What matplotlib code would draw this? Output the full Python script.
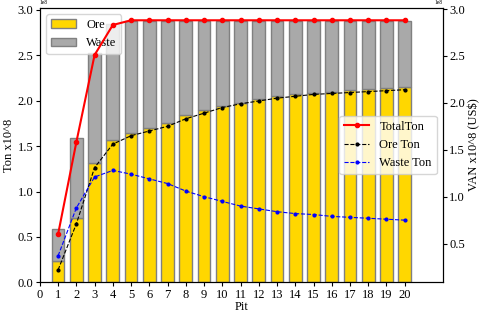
import numpy as np
import matplotlib
matplotlib.use('Agg')
import matplotlib.pyplot as plt

plt.rcParams['font.family'] = ['Liberation Serif', 'DejaVu Serif']
plt.rcParams['font.size'] = 9

# data (units of 1e8)
pits = list(range(1, 21))
ore = [0.23, 0.71, 1.32, 1.57, 1.65, 1.70, 1.75, 1.84, 1.90, 1.94,
       1.98, 2.02, 2.05, 2.07, 2.09, 2.10, 2.12, 2.13, 2.14, 2.15]
total = [0.59, 1.59, 2.53, 2.85, 2.88, 2.88, 2.88, 2.88, 2.88, 2.88,
         2.88, 2.88, 2.88, 2.88, 2.88, 2.88, 2.88, 2.88, 2.88, 2.88]
total_ton = [0.60, 1.58, 2.51, 2.83, 2.88, 2.88, 2.88, 2.88, 2.88, 2.88,
             2.88, 2.88, 2.88, 2.88, 2.88, 2.88, 2.88, 2.88, 2.88, 2.88]
ore_ton = [0.22, 0.71, 1.31, 1.56, 1.65, 1.70, 1.75, 1.83, 1.89, 1.95,
           1.99, 2.02, 2.05, 2.07, 2.09, 2.10, 2.11, 2.12, 2.13, 2.14]
waste_ton = [0.37, 0.88, 1.21, 1.28, 1.24, 1.19, 1.14, 1.06, 1.00, 0.95,
             0.90, 0.87, 0.84, 0.82, 0.81, 0.79, 0.78, 0.77, 0.76, 0.75]

x = np.array(pits)
ore_b = np.array(ore) * 1e8
waste_b = (np.array(total) - np.array(ore)) * 1e8

fig = plt.figure(figsize=(4.8, 3.12), dpi=100)
ax = fig.add_axes([0.083, 0.095, 0.84, 0.88])
ax.bar(x, ore_b, width=0.7, color='gold', edgecolor='grey', label='Ore')
ax.bar(x, waste_b, width=0.7, bottom=ore_b, color='darkgray', edgecolor='grey', label='Waste')
ax.set_xlim(0, 22.1)
ax.set_xticks(range(0, 21))
ax.tick_params(length=3, pad=1.5)
ax.set_xlabel('Pit', labelpad=0)
ax.set_ylabel('Ton x10^8', labelpad=2)
ax.yaxis.get_offset_text().set_fontsize(4)
ax.legend(loc='upper left')

ax2 = ax.twinx()
ax2.plot(x, np.array(total_ton) * 1e8, '-', color='red', marker='o', markersize=3, lw=1.5, label='TotalTon')
ax2.plot(x, np.array(ore_ton) * 1e8, '--', color='black', marker='.', markersize=4, lw=0.8, label='Ore Ton')
ax2.plot(x, np.array(waste_ton) * 1e8, '--', color='blue', marker='.', markersize=4, lw=0.8, label='Waste Ton')
ax2.tick_params(length=3, pad=1.5)
ax2.set_ylabel('VAN x10^8 (US$)', labelpad=2)
ax2.yaxis.get_offset_text().set_fontsize(4)
ax2.legend(loc='center right')

fig.savefig('out.png', dpi=100)
